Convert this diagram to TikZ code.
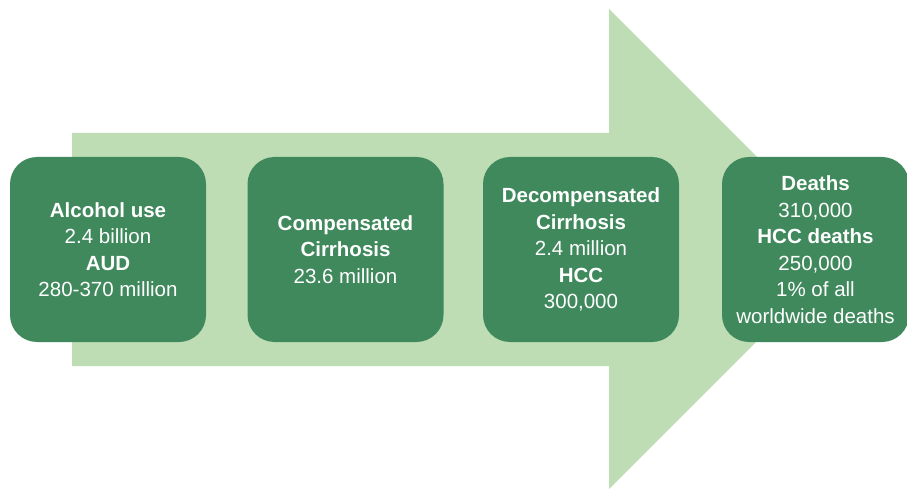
\documentclass[tikz,border=0pt]{standalone}
\usepackage{fontspec}
\setmainfont{Liberation Sans}
\usepackage{tikz}
\usetikzlibrary{positioning}
\definecolor{darkgreen}{RGB}{64,137,93}
\definecolor{lightgreen}{RGB}{190,221,180}

\begin{document}
\begin{tikzpicture}[x=1pt,y=-1pt]
	 \tikzstyle{stage}=[rectangle,rounded corners=27pt,fill=darkgreen,text=white,align=center,
	   minimum width=196pt,minimum height=185pt,inner sep=0pt,font=\fontsize{20.5}{26.5}\selectfont]
	 \useasboundingbox (0,0) rectangle (907,489);
	 % background arrow
	 \fill[lightgreen] (72,133) -- (609,133) -- (609,9) -- (849,249) -- (609,489) -- (609,366) -- (72,366) -- cycle;
	 \node[stage] (s1) at (108,249.5) {\textbf{Alcohol use}\\2.4 billion\\\textbf{AUD}\\280-370 million};
	 \node[stage] (s2) at (345.5,249.5) {\textbf{Compensated}\\\textbf{Cirrhosis}\\23.6 million};
	 \node[stage] (s3) at (581,249.5) {\textbf{Decompensated}\\\textbf{Cirrhosis}\\2.4 million\\\textbf{HCC}\\300,000};
	 \node[stage,minimum width=187pt] (s4) at (815.5,249.5) {\textbf{Deaths}\\310,000\\\textbf{HCC deaths}\\250,000\\1\% of all\\worldwide deaths};
 \end{tikzpicture}
\end{document}
